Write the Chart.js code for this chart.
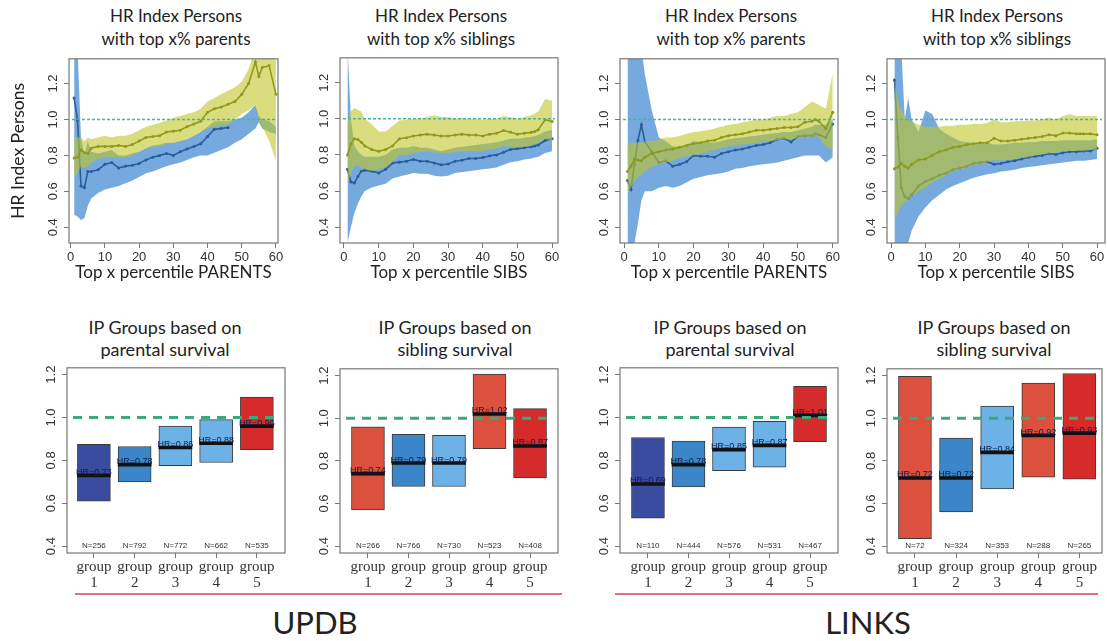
<!DOCTYPE html>
<html>
<head>
<meta charset="utf-8">
<script src="https://cdn.jsdelivr.net/npm/chart.js@4.4.1/dist/chart.umd.min.js"></script>
<style>
  body { margin: 0; background: #fff; }
  #page { position: relative; width: 1107px; height: 641px; overflow: hidden; font-family: Lato, sans-serif; color: #222; }
  canvas { position: absolute; }
  .ttl { position: absolute; transform: translateX(-50%); text-align: center; white-space: nowrap; }
  .top { top: 4px; line-height: 23px; font-size: 17px; }
  .bot { top: 316px; line-height: 22px; font-size: 18px; }
  .rule { position: absolute; top: 593px; height: 2px; background: #e2727e; }
  .big { position: absolute; top: 601px; line-height: 42px; font-size: 31px; transform: translateX(-50%); }
</style>
</head>
<body>
<div id="page">
  <div class="ttl top" style="left:176px">HR Index Persons<br>with top x% parents</div>
  <div class="ttl top" style="left:441px">HR Index Persons<br>with top x% siblings</div>
  <div class="ttl top" style="left:731px">HR Index Persons<br>with top x% parents</div>
  <div class="ttl top" style="left:997px">HR Index Persons<br>with top x% siblings</div>

  <div class="ttl bot" style="left:165px">IP Groups based on<br>parental survival</div>
  <div class="ttl bot" style="left:455px">IP Groups based on<br>sibling survival</div>
  <div class="ttl bot" style="left:730px">IP Groups based on<br>parental survival</div>
  <div class="ttl bot" style="left:994px">IP Groups based on<br>sibling survival</div>

  <canvas id="t1" width="290" height="241" style="left:0px;top:49px"></canvas>
  <canvas id="t2" width="262" height="242" style="left:308px;top:48px"></canvas>
  <canvas id="t3" width="262" height="241" style="left:588px;top:49px"></canvas>
  <canvas id="t4" width="262" height="241" style="left:855px;top:49px"></canvas>

  <canvas id="b1" width="260" height="237" style="left:35px;top:358px"></canvas>
  <canvas id="b2" width="260" height="236" style="left:308px;top:359px"></canvas>
  <canvas id="b3" width="260" height="237" style="left:588px;top:358px"></canvas>
  <canvas id="b4" width="257" height="236" style="left:855px;top:359px"></canvas>

  <div class="rule" style="left:75px;width:487px"></div>
  <div class="rule" style="left:615px;width:483px"></div>
  <div class="big" style="left:315px">UPDB</div>
  <div class="big" style="left:868px">LINKS</div>
</div>

<script>
// ---- data: trend panels (top row) ----
const X_PCT = [1, 2, 3, 4, 5, 6, 8, 10, 12, 14, 16, 18, 20, 22, 24, 26, 28, 30, 32, 34, 36, 38, 40, 42, 44, 46, 48, 50, 52, 54, 55, 56, 58, 60];
const X_TICKS = [0, 10, 20, 30, 40, 50, 60];
const Y_TICKS = [0.4, 0.6, 0.8, 1.0, 1.2];
const REF_HR = 1.0;

// UPDB, top x% parents (blue line not visible past x = 46)
const updbParOlive   = [0.785, 0.79, 0.83, 0.815, 0.81, 0.84, 0.85, 0.85, 0.85, 0.855, 0.85, 0.86, 0.88, 0.90, 0.905, 0.91, 0.93, 0.935, 0.94, 0.96, 0.975, 0.99, 1.04, 1.06, 1.07, 1.085, 1.10, 1.14, 1.20, 1.32, 1.24, 1.29, 1.30, 1.14];
const updbParOliveHi = [0.90, 0.90, 0.90, 0.88, 0.90, 0.89, 0.90, 0.91, 0.90, 0.91, 0.91, 0.92, 0.94, 0.96, 0.97, 0.98, 0.995, 1.01, 1.02, 1.03, 1.04, 1.06, 1.10, 1.12, 1.14, 1.16, 1.18, 1.21, 1.28, 1.40, 1.40, 1.40, 1.40, 1.40];
const updbParOliveLo = [0.68, 0.70, 0.74, 0.73, 0.74, 0.76, 0.78, 0.79, 0.79, 0.79, 0.79, 0.80, 0.82, 0.84, 0.85, 0.85, 0.865, 0.87, 0.875, 0.89, 0.91, 0.93, 0.95, 0.96, 0.965, 0.97, 1.0, 1.03, 1.05, 1.08, 0.99, 0.96, 0.88, 0.77];
const updbParBlue    = [1.12, 0.995, 0.63, 0.62, 0.71, 0.71, 0.72, 0.75, 0.76, 0.73, 0.74, 0.745, 0.755, 0.775, 0.79, 0.80, 0.81, 0.80, 0.82, 0.835, 0.85, 0.865, 0.905, 0.945, 0.95, 0.955, null, null, null, null, null, null, null, null];
const updbParBlueHi  = [1.40, 1.40, 0.90, 0.80, 0.88, 0.82, 0.81, 0.82, 0.83, 0.80, 0.80, 0.81, 0.82, 0.84, 0.855, 0.86, 0.87, 0.87, 0.88, 0.89, 0.91, 0.93, 0.96, 0.99, 0.99, 0.99, 1.0, 1.01, 1.04, 1.08, 1.02, 1.0, 0.99, 0.96];
const updbParBlueLo  = [0.47, 0.46, 0.44, 0.45, 0.52, 0.56, 0.59, 0.61, 0.62, 0.63, 0.645, 0.66, 0.68, 0.70, 0.71, 0.725, 0.74, 0.75, 0.76, 0.775, 0.79, 0.80, 0.80, 0.815, 0.83, 0.845, 0.87, 0.89, 0.92, 0.95, 0.985, 0.95, 0.93, 0.92];

// UPDB, top x% siblings
const updbSibOlive   = [0.80, 0.86, 0.89, 0.885, 0.87, 0.85, 0.83, 0.82, 0.83, 0.85, 0.89, 0.895, 0.905, 0.91, 0.915, 0.91, 0.905, 0.905, 0.91, 0.915, 0.91, 0.91, 0.905, 0.915, 0.92, 0.935, 0.925, 0.915, 0.92, 0.925, 0.93, 0.94, 0.995, 0.985];
const updbSibOliveHi = [0.98, 1.04, 1.06, 1.05, 1.04, 1.0, 0.97, 0.93, 0.93, 0.96, 0.99, 0.995, 1.0, 1.0, 1.01, 1.02, 1.01, 1.01, 1.0, 1.005, 1.0, 1.0, 0.995, 1.0, 1.0, 1.015, 1.01, 1.0, 1.01, 1.02, 1.03, 1.04, 1.11, 1.10];
const updbSibOliveLo = [0.64, 0.70, 0.74, 0.74, 0.73, 0.72, 0.71, 0.72, 0.73, 0.76, 0.80, 0.80, 0.81, 0.815, 0.82, 0.815, 0.81, 0.81, 0.815, 0.82, 0.82, 0.82, 0.82, 0.83, 0.835, 0.85, 0.845, 0.84, 0.845, 0.85, 0.86, 0.865, 0.89, 0.88];
const updbSibBlue    = [0.72, 0.65, 0.645, 0.68, 0.71, 0.715, 0.71, 0.70, 0.72, 0.755, 0.76, 0.765, 0.775, 0.765, 0.765, 0.755, 0.745, 0.75, 0.765, 0.77, 0.78, 0.78, 0.785, 0.795, 0.80, 0.815, 0.83, 0.835, 0.84, 0.845, 0.85, 0.855, 0.88, 0.89];
const updbSibBlueHi  = [1.40, 1.0, 0.85, 0.82, 0.80, 0.79, 0.79, 0.79, 0.80, 0.83, 0.84, 0.84, 0.85, 0.84, 0.84, 0.83, 0.82, 0.83, 0.84, 0.845, 0.85, 0.855, 0.86, 0.865, 0.87, 0.88, 0.89, 0.89, 0.895, 0.90, 0.905, 0.91, 0.93, 0.94];
const updbSibBlueLo  = [0.31, 0.40, 0.48, 0.53, 0.57, 0.60, 0.62, 0.63, 0.64, 0.67, 0.68, 0.69, 0.70, 0.695, 0.695, 0.685, 0.68, 0.685, 0.70, 0.705, 0.71, 0.715, 0.72, 0.725, 0.73, 0.745, 0.76, 0.765, 0.775, 0.78, 0.785, 0.79, 0.81, 0.82];

// LINKS, top x% parents
const linksParOlive   = [0.71, 0.74, 0.78, 0.775, 0.77, 0.79, 0.81, 0.82, 0.83, 0.835, 0.845, 0.855, 0.865, 0.87, 0.88, 0.885, 0.90, 0.91, 0.915, 0.92, 0.93, 0.94, 0.94, 0.945, 0.95, 0.955, 0.955, 0.96, 0.985, 0.99, 1.0, 0.99, 0.95, 1.04];
const linksParOliveHi = [0.86, 0.87, 0.87, 0.87, 0.87, 0.88, 0.88, 0.89, 0.90, 0.90, 0.91, 0.92, 0.93, 0.935, 0.94, 0.95, 0.96, 0.97, 0.975, 0.985, 0.99, 1.0, 1.0, 1.01, 1.02, 1.02, 1.03, 1.04, 1.07, 1.10, 1.09, 1.08, 1.06, 1.26];
const linksParOliveLo = [0.60, 0.62, 0.66, 0.68, 0.69, 0.71, 0.735, 0.75, 0.76, 0.77, 0.785, 0.795, 0.80, 0.81, 0.82, 0.83, 0.84, 0.85, 0.855, 0.86, 0.865, 0.87, 0.875, 0.88, 0.885, 0.89, 0.89, 0.895, 0.90, 0.90, 0.91, 0.90, 0.85, 0.83];
const linksParBlue    = [0.66, 0.61, 0.75, 0.885, 0.97, 0.875, 0.82, 0.76, 0.77, 0.74, 0.75, 0.765, 0.80, 0.795, 0.795, 0.79, 0.81, 0.82, 0.83, 0.835, 0.845, 0.855, 0.86, 0.87, 0.89, 0.895, 0.875, 0.905, 0.91, 0.91, 0.92, 0.915, 0.90, 0.975];
const linksParBlueHi  = [1.40, 1.40, 1.40, 1.40, 1.40, 1.25, 1.05, 0.90, 0.88, 0.85, 0.85, 0.86, 0.88, 0.875, 0.875, 0.87, 0.88, 0.89, 0.895, 0.90, 0.905, 0.91, 0.915, 0.92, 0.925, 0.93, 0.93, 0.94, 0.95, 0.96, 0.97, 0.97, 0.97, 1.0];
const linksParBlueLo  = [0.31, 0.31, 0.31, 0.42, 0.55, 0.60, 0.60, 0.62, 0.63, 0.62, 0.63, 0.65, 0.67, 0.68, 0.69, 0.695, 0.70, 0.71, 0.725, 0.73, 0.74, 0.745, 0.75, 0.755, 0.76, 0.77, 0.78, 0.79, 0.80, 0.80, 0.80, 0.80, 0.76, 0.79];

// LINKS, top x% siblings
const linksSibOlive   = [0.725, 0.735, 0.755, 0.74, 0.73, 0.75, 0.775, 0.78, 0.80, 0.82, 0.83, 0.845, 0.85, 0.86, 0.865, 0.87, 0.87, 0.895, 0.88, 0.88, 0.885, 0.89, 0.895, 0.90, 0.905, 0.915, 0.91, 0.925, 0.925, 0.92, 0.92, 0.92, 0.92, 0.915];
const linksSibOliveHi = [1.22, 1.10, 1.05, 1.02, 1.0, 0.99, 0.97, 0.96, 0.96, 0.96, 0.965, 0.965, 0.97, 0.97, 0.975, 0.975, 0.98, 1.0, 0.985, 0.985, 0.99, 0.99, 0.995, 0.995, 1.0, 1.01, 1.0, 1.02, 1.03, 1.02, 1.02, 1.02, 1.02, 1.02];
const linksSibOliveLo = [0.44, 0.48, 0.52, 0.54, 0.55, 0.57, 0.60, 0.62, 0.65, 0.67, 0.69, 0.71, 0.72, 0.73, 0.745, 0.75, 0.76, 0.775, 0.77, 0.775, 0.78, 0.785, 0.79, 0.80, 0.805, 0.81, 0.815, 0.82, 0.825, 0.825, 0.825, 0.825, 0.83, 0.83];
const linksSibBlue    = [1.22, 0.90, 0.62, 0.57, 0.56, 0.58, 0.63, 0.655, 0.67, 0.69, 0.70, 0.72, 0.73, 0.74, 0.755, 0.76, 0.765, 0.75, 0.755, 0.765, 0.77, 0.78, 0.79, 0.795, 0.80, 0.81, 0.805, 0.815, 0.82, 0.82, 0.825, 0.825, 0.825, 0.84];
const linksSibBlueHi  = [1.40, 1.40, 1.40, 1.0, 1.12, 1.0, 0.93, 1.05, 1.03, 0.95, 0.92, 0.90, 0.88, 0.875, 0.87, 0.87, 0.87, 0.86, 0.86, 0.865, 0.87, 0.87, 0.875, 0.875, 0.88, 0.88, 0.88, 0.885, 0.885, 0.885, 0.885, 0.885, 0.885, 0.89];
const linksSibBlueLo  = [0.31, 0.31, 0.31, 0.31, 0.31, 0.38, 0.46, 0.51, 0.55, 0.58, 0.61, 0.63, 0.645, 0.66, 0.675, 0.685, 0.695, 0.70, 0.71, 0.715, 0.72, 0.73, 0.735, 0.74, 0.745, 0.75, 0.755, 0.76, 0.765, 0.77, 0.77, 0.77, 0.775, 0.78];

// ---- data: IP group panels (bottom row) ----
const GROUP_LABELS = ['1', '2', '3', '4', '5'];

const updbParLo = [0.61, 0.70, 0.775, 0.79, 0.85];
const updbParHi = [0.875, 0.865, 0.96, 0.99, 1.095];
const updbParHR = [0.73, 0.78, 0.86, 0.88, 0.96];
const updbParN  = [256, 792, 772, 662, 535];

const updbSibLo = [0.57, 0.68, 0.68, 0.857, 0.72];
const updbSibHi = [0.96, 0.925, 0.92, 1.207, 1.045];
const updbSibHR = [0.74, 0.79, 0.79, 1.02, 0.87];
const updbSibN  = [266, 766, 730, 523, 408];

const linksParLo = [0.53, 0.676, 0.752, 0.768, 0.887];
const linksParHi = [0.907, 0.89, 0.955, 0.982, 1.146];
const linksParHR = [0.69, 0.78, 0.85, 0.87, 1.01];
const linksParN  = [110, 444, 576, 531, 467];

const linksSibLo = [0.435, 0.561, 0.669, 0.724, 0.714];
const linksSibHi = [1.197, 0.907, 1.057, 1.165, 1.21];
const linksSibHR = [0.72, 0.72, 0.84, 0.92, 0.93];
const linksSibN  = [72, 324, 353, 288, 265];

// ---- styles ----
const OLIVE_LINE = '#8f9a1c';
const OLIVE_BAND = 'rgba(192,198,40,0.6)';
const BLUE_LINE = '#2b5d9e';
const BLUE_BAND = 'rgba(84,148,214,0.8)';
const DARK = '#3a4ca0', MED = '#3a86c8', LIGHT = '#6db2e6', ORANGE = '#db513d', RED = '#d62b2b';
const TICK_FONT = { family: '"Liberation Sans", Arial, sans-serif', size: 13 };
const TITLE_FONT = { family: 'Lato, sans-serif', size: 17 };
const AXIS_GRAY = '#777';

// box around the plot region, like R's bty="o"
const framePlugin = {
  id: 'frame',
  afterDraw(chart) {
    const { ctx, chartArea: a } = chart;
    ctx.save();
    ctx.strokeStyle = AXIS_GRAY;
    ctx.lineWidth = 1.2;
    ctx.strokeRect(a.left, a.top, a.right - a.left, a.bottom - a.top);
    ctx.restore();
  }
};

// horizontal reference line at HR = 1
const refLinePlugin = {
  id: 'refLine',
  afterDatasetsDraw(chart, args, opts) {
    const { ctx, chartArea: a } = chart;
    const y = chart.scales.y.getPixelForValue(opts.value);
    ctx.save();
    ctx.setLineDash(opts.dash);
    ctx.strokeStyle = opts.color;
    ctx.lineWidth = opts.width;
    ctx.beginPath();
    ctx.moveTo(a.left + opts.inset, y);
    ctx.lineTo(a.right - opts.inset, y);
    ctx.stroke();
    ctx.restore();
  }
};

// HR and N labels on the group bars
const barTextPlugin = {
  id: 'barText',
  afterDatasetsDraw(chart, args, opts) {
    const { ctx } = chart;
    const xs = chart.scales.x, ys = chart.scales.y;
    ctx.save();
    ctx.textAlign = 'center';
    opts.hr.forEach((v, i) => {
      const x = xs.getPixelForValue(i + 1);
      ctx.font = '9px "Liberation Sans", Arial, sans-serif';
      ctx.fillStyle = '#0f1c48';
      ctx.textBaseline = 'alphabetic';
      ctx.fillText('HR=' + v.toFixed(2), x, ys.getPixelForValue(v) - 0.5);
      ctx.font = '8px "Liberation Sans", Arial, sans-serif';
      ctx.fillStyle = '#333';
      ctx.textBaseline = 'middle';
      ctx.fillText('N=' + opts.n[i], x, ys.bottom - 7);
    });
    ctx.restore();
  }
};

function yAxis(width, title) {
  return {
    min: 0.312, max: 1.338,
    afterBuildTicks: s => { s.ticks = Y_TICKS.map(v => ({ value: v })); },
    afterFit: s => { s.width = width; },
    border: { display: false },
    grid: { drawOnChartArea: false, tickLength: 5, color: AXIS_GRAY },
    ticks: { font: TICK_FONT, color: '#333', minRotation: 90, maxRotation: 90, crossAlign: 'center', padding: 2, autoSkip: false, callback: v => v.toFixed(1) },
    title: title ? { display: true, text: title, font: { family: 'Lato, sans-serif', size: 17.5 }, color: '#222', padding: { top: 8, bottom: 0 } } : { display: false }
  };
}

function trendPanel(id, s) {
  const pts = arr => X_PCT.map((x, i) => ({ x: x, y: arr[i] }));
  const line = (arr, color) => ({ data: pts(arr), borderColor: color, backgroundColor: color, borderWidth: 1.6, pointRadius: 1.5, pointBorderWidth: 0, fill: false, spanGaps: false });
  const edge = (arr, fill, bg) => ({ data: pts(arr), borderColor: 'rgba(0,0,0,0)', borderWidth: 0, pointRadius: 0, fill: fill, backgroundColor: bg });
  return new Chart(document.getElementById(id), {
    type: 'line',
    data: {
      datasets: [
        line(s.olive, OLIVE_LINE),
        edge(s.oliveHi, '+1', OLIVE_BAND),
        edge(s.oliveLo, false, OLIVE_BAND),
        line(s.blue, BLUE_LINE),
        edge(s.blueHi, '+1', BLUE_BAND),
        edge(s.blueLo, false, BLUE_BAND)
      ]
    },
    options: {
      responsive: false,
      animation: false,
      layout: { padding: { top: 4, right: s.padR, left: 0, bottom: 0 } },
      plugins: {
        legend: { display: false },
        tooltip: { enabled: false },
        refLine: { value: REF_HR, dash: [3, 2], color: '#4db39a', width: 1.4, inset: 3 }
      },
      scales: {
        x: {
          type: 'linear', min: s.xMin, max: s.xMax,
          afterBuildTicks: sc => { sc.ticks = X_TICKS.map(v => ({ value: v })); },
          afterFit: sc => { sc.height = 47; },
          border: { display: false },
          grid: { drawOnChartArea: false, tickLength: 5, color: AXIS_GRAY },
          ticks: { font: TICK_FONT, color: '#333', padding: 2, maxRotation: 0, autoSkip: false, callback: v => String(v) },
          title: { display: true, text: s.xTitle, font: TITLE_FONT, color: '#222', padding: { top: 0, bottom: 7 } }
        },
        y: yAxis(s.yW, s.yTitle)
      }
    },
    plugins: [framePlugin, refLinePlugin]
  });
}

function groupPanel(id, s) {
  const HALF_LINE = 0.007;
  const bars = s.lo.map((v, i) => ({ x: i + 1, y: [v, s.hi[i]] }));
  const hrMarks = s.hr.map((v, i) => ({ x: i + 1, y: [v - HALF_LINE, v + HALF_LINE] }));
  const yA = yAxis(32, null);
  yA.min = 0.368; yA.max = 1.232;
  return new Chart(document.getElementById(id), {
    type: 'bar',
    data: {
      datasets: [
        { data: hrMarks, backgroundColor: '#111', borderWidth: 0, barThickness: 33, grouped: false },
        { data: bars, backgroundColor: s.colors, borderColor: '#3b3b3b', borderWidth: 1, borderSkipped: false, barThickness: 33, grouped: false }
      ]
    },
    options: {
      responsive: false,
      animation: false,
      layout: { padding: { top: 4, right: s.padR, left: 0, bottom: 0 } },
      plugins: {
        legend: { display: false },
        tooltip: { enabled: false },
        refLine: { value: REF_HR, dash: [9, 7], color: '#3aab78', width: 3, inset: 6 },
        barText: { hr: s.hr, n: s.n }
      },
      scales: {
        x: {
          type: 'linear', min: s.xMin, max: s.xMax, offset: false,
          afterBuildTicks: sc => { sc.ticks = GROUP_LABELS.map((g, i) => ({ value: i + 1 })); },
          afterFit: sc => { sc.height = 42; },
          border: { display: false },
          grid: { drawOnChartArea: false, offset: false, tickLength: 5, color: AXIS_GRAY },
          ticks: { font: { family: '"Liberation Serif", serif', size: 15, lineHeight: 1.07 }, color: '#333', padding: 1, maxRotation: 0, autoSkip: false, callback: v => ['group', GROUP_LABELS[v - 1]] }
        },
        y: yA
      }
    },
    plugins: [framePlugin, refLinePlugin, barTextPlugin]
  });
}

trendPanel('t1', { olive: updbParOlive, oliveHi: updbParOliveHi, oliveLo: updbParOliveLo, blue: updbParBlue, blueHi: updbParBlueHi, blueLo: updbParBlueLo,
  xMin: -0.5, xMax: 60.6, yW: 69, padR: 12, yTitle: 'HR Index Persons', xTitle: 'Top x percentile PARENTS' });
trendPanel('t2', { olive: updbSibOlive, oliveHi: updbSibOliveHi, oliveLo: updbSibOliveLo, blue: updbSibBlue, blueHi: updbSibBlueHi, blueLo: updbSibBlueLo,
  xMin: -1.15, xMax: 61.7, yW: 32, padR: 12, yTitle: null, xTitle: 'Top x percentile SIBS' });
trendPanel('t3', { olive: linksParOlive, oliveHi: linksParOliveHi, oliveLo: linksParOliveLo, blue: linksParBlue, blueHi: linksParBlueHi, blueLo: linksParBlueLo,
  xMin: -1.15, xMax: 61.5, yW: 32, padR: 12, yTitle: null, xTitle: 'Top x percentile PARENTS' });
trendPanel('t4', { olive: linksSibOlive, oliveHi: linksSibOliveHi, oliveLo: linksSibOliveLo, blue: linksSibBlue, blueHi: linksSibBlueHi, blueLo: linksSibBlueLo,
  xMin: -1.17, xMax: 62.3, yW: 32, padR: 12, yTitle: null, xTitle: 'Top x percentile SIBS' });

groupPanel('b1', { lo: updbParLo, hi: updbParHi, hr: updbParHR, n: updbParN, colors: [DARK, MED, LIGHT, LIGHT, RED], xMin: 0.34, xMax: 5.69, padR: 10 });
groupPanel('b2', { lo: updbSibLo, hi: updbSibHi, hr: updbSibHR, n: updbSibN, colors: [ORANGE, MED, LIGHT, ORANGE, RED], xMin: 0.31, xMax: 5.69, padR: 10 });
groupPanel('b3', { lo: linksParLo, hi: linksParHi, hr: linksParHR, n: linksParN, colors: [DARK, MED, LIGHT, LIGHT, RED], xMin: 0.31, xMax: 5.69, padR: 10 });
groupPanel('b4', { lo: linksSibLo, hi: linksSibHi, hr: linksSibHR, n: linksSibN, colors: [ORANGE, MED, LIGHT, ORANGE, RED], xMin: 0.32, xMax: 5.55, padR: 10 });
</script>
</body>
</html>
